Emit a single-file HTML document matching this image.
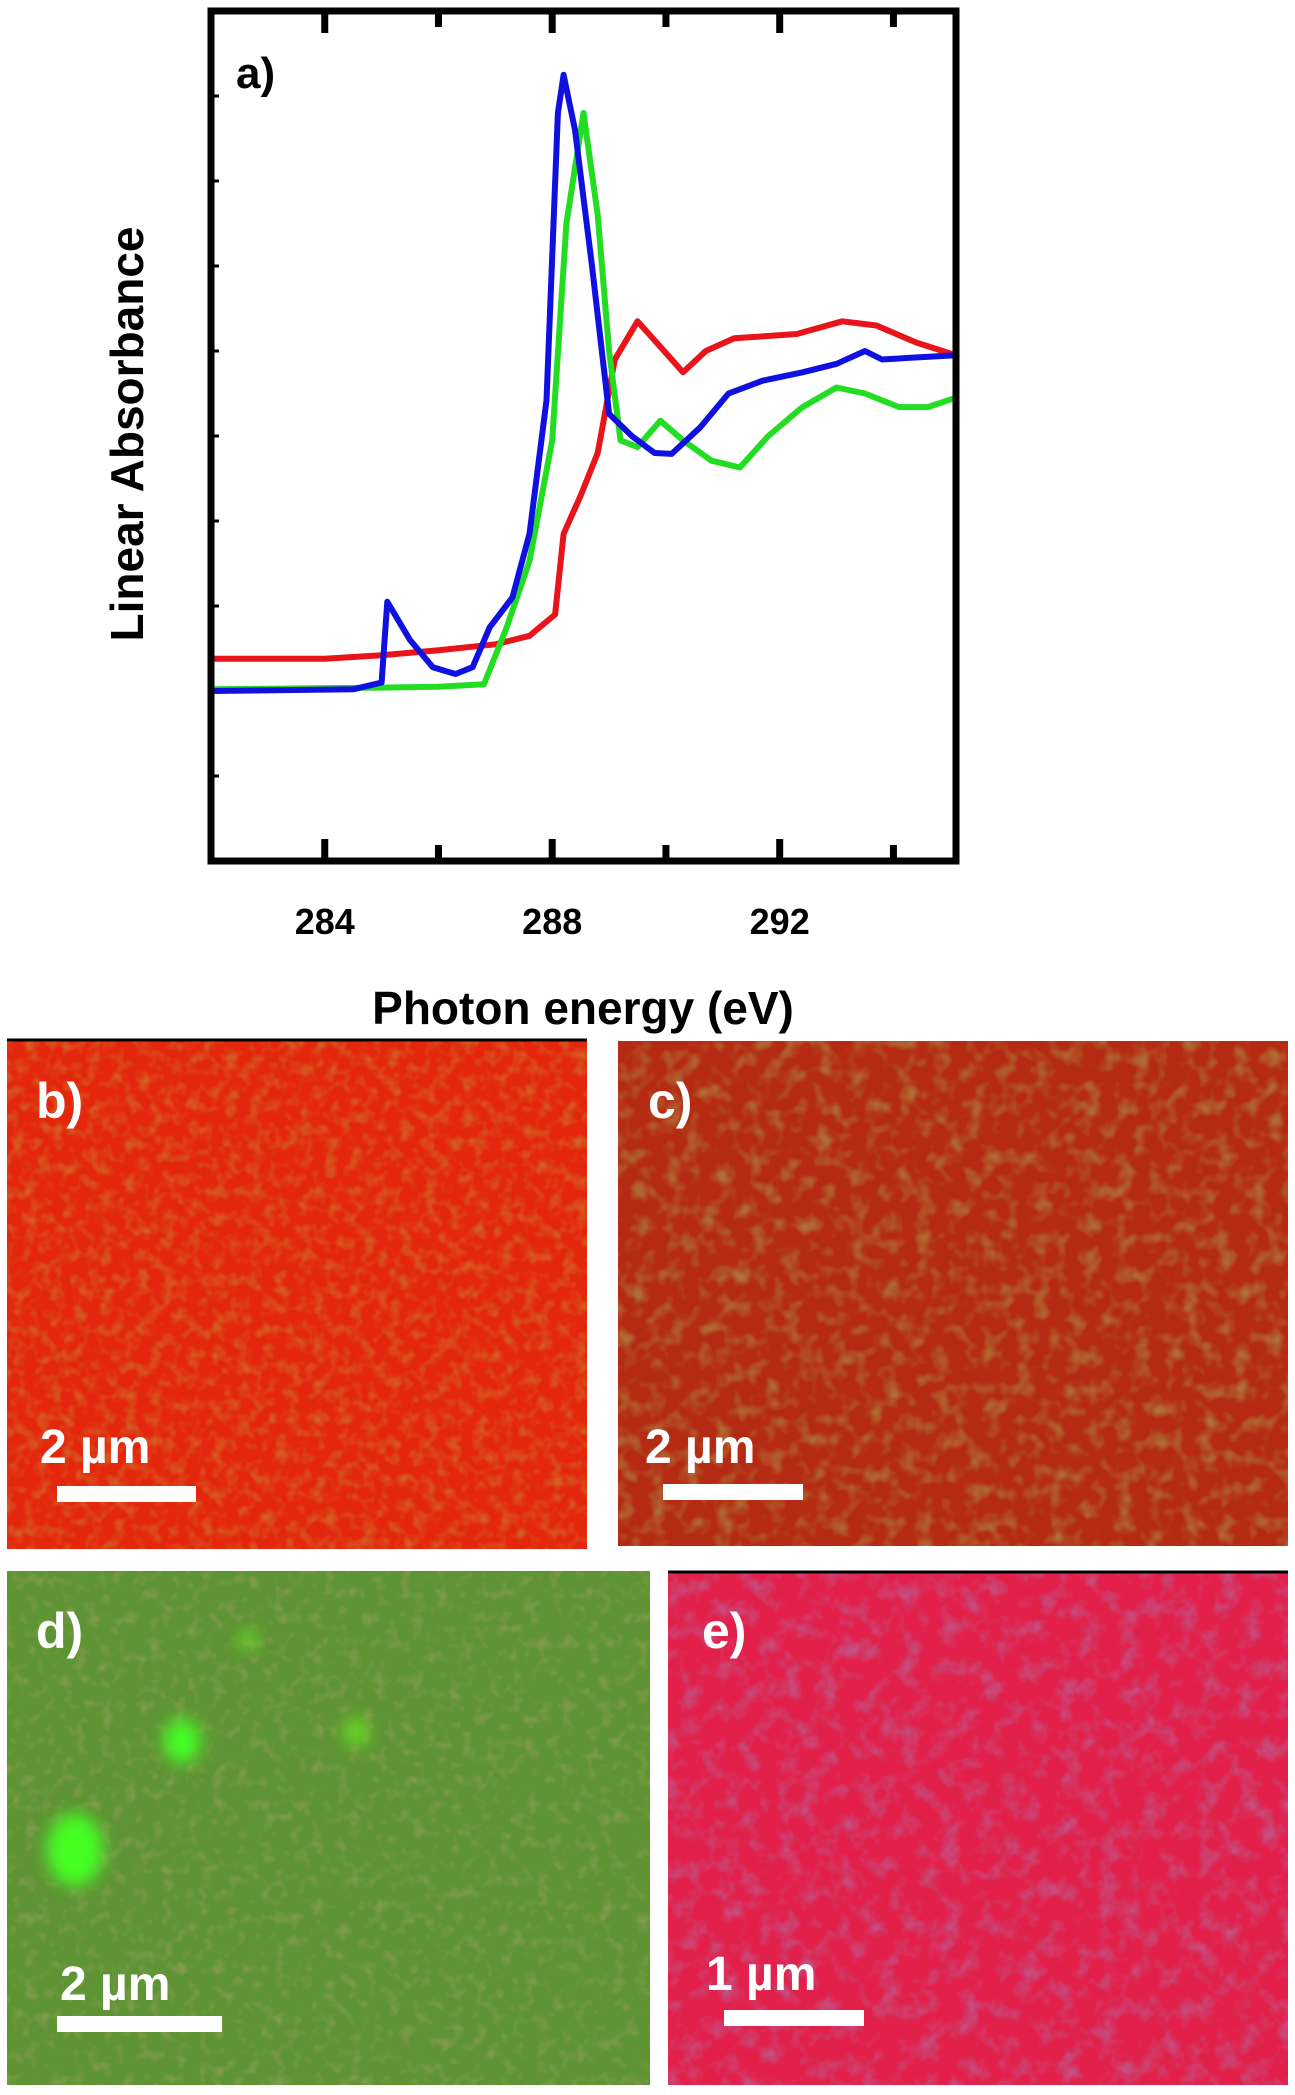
<!DOCTYPE html>
<html><head><meta charset="utf-8"><style>
html,body{margin:0;padding:0;background:#fff;}
svg{display:block;font-family:"Liberation Sans",Arial,sans-serif;}
</style></head><body>
<svg id="fig" width="1295" height="2095" viewBox="0 0 1295 2095" xmlns="http://www.w3.org/2000/svg">
<defs>
<filter id="nb" x="0" y="0" width="100%" height="100%"><feTurbulence type="fractalNoise" baseFrequency="0.08" numOctaves="2" seed="3"/><feColorMatrix type="matrix" values="0 0 0 0 0.55  0 0 0 0 0.35  0 0 0 0 0.05  0 0 0 -2.2 1.25"/></filter>
<filter id="nc" x="0" y="0" width="100%" height="100%"><feTurbulence type="fractalNoise" baseFrequency="0.06" numOctaves="2" seed="7"/><feColorMatrix type="matrix" values="0 0 0 0 0.4  0 0 0 0 0.42  0 0 0 0 0.1  0 0 0 -2.4 1.3"/></filter>
<filter id="nd" x="0" y="0" width="100%" height="100%"><feTurbulence type="fractalNoise" baseFrequency="0.08" numOctaves="2" seed="11"/><feColorMatrix type="matrix" values="0 0 0 0 0.55  0 0 0 0 0.4  0 0 0 0 0.2  0 0 0 -2.4 1.2"/></filter>
<filter id="ne" x="0" y="0" width="100%" height="100%"><feTurbulence type="fractalNoise" baseFrequency="0.05" numOctaves="3" seed="5"/><feColorMatrix type="matrix" values="0 0 0 0 0.4  0 0 0 0 0.2  0 0 0 0 0.45  0 0 0 -2.4 1.3"/></filter>
<filter id="blur" x="-50%" y="-50%" width="200%" height="200%"><feGaussianBlur stdDeviation="8"/></filter>
</defs>
<g id="chart"></g>

<g>
<rect x="7" y="1041" width="580" height="508" fill="#e4260c"/>
<rect x="7" y="1041" width="580" height="508" filter="url(#nb)" opacity="0.5"/>
<line x1="7" y1="1040" x2="587" y2="1040" stroke="#000" stroke-width="3"/>
<text x="36" y="1118" fill="#fff" font-size="50" font-weight="bold">b)</text>
<text x="40" y="1463" fill="#fff" font-size="48" font-weight="bold">2 µm</text>
<rect x="57" y="1486" width="139" height="16" fill="#fff"/>
</g>
<g>
<rect x="618" y="1041" width="670" height="505" fill="#b52a12"/>
<rect x="618" y="1041" width="670" height="505" filter="url(#nc)" opacity="0.55"/>
<text x="648" y="1118" fill="#fff" font-size="50" font-weight="bold">c)</text>
<text x="645" y="1463" fill="#fff" font-size="48" font-weight="bold">2 µm</text>
<rect x="663" y="1484" width="140" height="16" fill="#fff"/>
</g>
<g>
<rect x="7" y="1571" width="643" height="514" fill="#5e9434"/>
<rect x="7" y="1571" width="643" height="514" filter="url(#nd)" opacity="0.4"/>
<ellipse cx="75" cy="1850" rx="28" ry="36" fill="#44ff22" filter="url(#blur)"/>
<ellipse cx="182" cy="1741" rx="18" ry="22" fill="#44ff22" filter="url(#blur)"/>
<ellipse cx="356" cy="1732" rx="12" ry="14" fill="#66dd22" filter="url(#blur)"/>
<ellipse cx="248" cy="1640" rx="9" ry="9" fill="#66dd22" filter="url(#blur)"/>
<text x="36" y="1648" fill="#fff" font-size="50" font-weight="bold">d)</text>
<text x="60" y="2000" fill="#fff" font-size="48" font-weight="bold">2 µm</text>
<rect x="57" y="2016" width="165" height="16" fill="#fff"/>
</g>
<g>
<rect x="668" y="1573" width="620" height="512" fill="#e2204a"/>
<rect x="668" y="1573" width="620" height="512" filter="url(#ne)" opacity="0.55"/>
<line x1="668" y1="1572" x2="1288" y2="1572" stroke="#000" stroke-width="3"/>
<text x="702" y="1648" fill="#fff" font-size="50" font-weight="bold">e)</text>
<text x="706" y="1990" fill="#fff" font-size="48" font-weight="bold">1 µm</text>
<rect x="724" y="2010" width="140" height="16" fill="#fff"/>
</g>
</svg>
<script>
const xTickLabels = [284, 288, 292];
const xMinorTicks = [282, 286, 290, 294];
const yTicks = [1,2,3,4,5,6,7,8,9];
const redX = [282,284,285,286,287,287.6,288.05,288.2,288.5,288.8,289.1,289.5,289.9,290.3,290.7,291.2,292.3,293.1,293.7,294.4,295.1];
const redY = [2.38,2.38,2.42,2.48,2.55,2.65,2.9,3.85,4.3,4.8,5.9,6.35,6.05,5.75,6.0,6.15,6.2,6.35,6.3,6.1,5.95];
const greenX = [282,285,286,286.8,287.2,287.6,288.0,288.25,288.55,288.8,289.0,289.2,289.5,289.9,290.3,290.8,291.3,291.8,292.4,293.0,293.5,294.1,294.6,295.1];
const greenY = [2.02,2.04,2.05,2.08,2.75,3.53,4.95,7.5,8.8,7.6,6.0,4.95,4.87,5.18,4.95,4.71,4.63,5.0,5.34,5.57,5.5,5.34,5.34,5.45];
const blueX = [282,284.5,285.0,285.1,285.5,285.9,286.3,286.6,286.9,287.3,287.6,287.9,288.1,288.2,288.4,288.7,289.0,289.4,289.8,290.1,290.6,291.1,291.7,292.4,293.0,293.5,293.8,294.3,295.1];
const blueY = [2.0,2.02,2.1,3.05,2.6,2.28,2.2,2.28,2.75,3.1,3.85,5.42,8.8,9.25,8.6,7.0,5.26,5.0,4.8,4.79,5.1,5.5,5.65,5.75,5.85,6.0,5.9,5.92,5.95];

const NS='http://www.w3.org/2000/svg';
const L=211,R=956,T=11,B=861,X0=282,X1=295.1,Y0=0,Y1=10;
const sx=v=>L+(v-X0)/(X1-X0)*(R-L);
const sy=v=>B-(v-Y0)/(Y1-Y0)*(B-T);
const g=document.getElementById('chart');
function mk(tag,attrs){const e=document.createElementNS(NS,tag);for(const k in attrs)e.setAttribute(k,attrs[k]);g.appendChild(e);return e;}
xTickLabels.concat(xMinorTicks).forEach((v,i)=>{
  const len=i<xTickLabels.length?22:16;
  let t=mk('line',{x1:sx(v),x2:sx(v),y1:B,y2:B-len,stroke:'#000','stroke-width':7});
  
  
  let t2=mk('line',{x1:sx(v),x2:sx(v),y1:T,y2:T+len,stroke:'#000','stroke-width':7});
  
  
});
yTicks.forEach(v=>{
  let t=mk('line',{x1:L,x2:L+8,y1:sy(v),y2:sy(v),stroke:'#000','stroke-width':3});
  
  
});
xTickLabels.forEach(v=>{
  let t=mk('text',{x:sx(v),y:934,'text-anchor':'middle','font-size':36,'font-weight':'bold',fill:'#000'});
  t.textContent=v;
  
  
});
function series(xs,ys,color,name){
  const d=xs.map((x,i)=>(i?'L':'M')+sx(x).toFixed(1)+' '+sy(ys[i]).toFixed(1)).join(' ');
  let p=mk('path',{d:d,fill:'none',stroke:color,'stroke-width':6,'stroke-linejoin':'round'});
  
  
}
series(redX,redY,'#e8141a','red-spectrum');
series(greenX,greenY,'#22dd22','green-spectrum');
series(blueX,blueY,'#1010e0','blue-spectrum');
let fr=mk('rect',{x:L,y:T,width:R-L,height:B-T,fill:'none',stroke:'#000','stroke-width':7});


let a=mk('text',{x:236,y:88,'font-size':44,'font-weight':'bold',fill:'#000'});
a.textContent='a)';


let xt=mk('text',{x:583,y:1024,'text-anchor':'middle','font-size':46,'font-weight':'bold',fill:'#000'});
xt.textContent='Photon energy (eV)';


let yt=mk('text',{x:0,y:0,'text-anchor':'middle','font-size':46,'font-weight':'bold',fill:'#000',transform:'translate(143,434) rotate(-90)'});
yt.textContent='Linear Absorbance';


</script>
</body></html>
